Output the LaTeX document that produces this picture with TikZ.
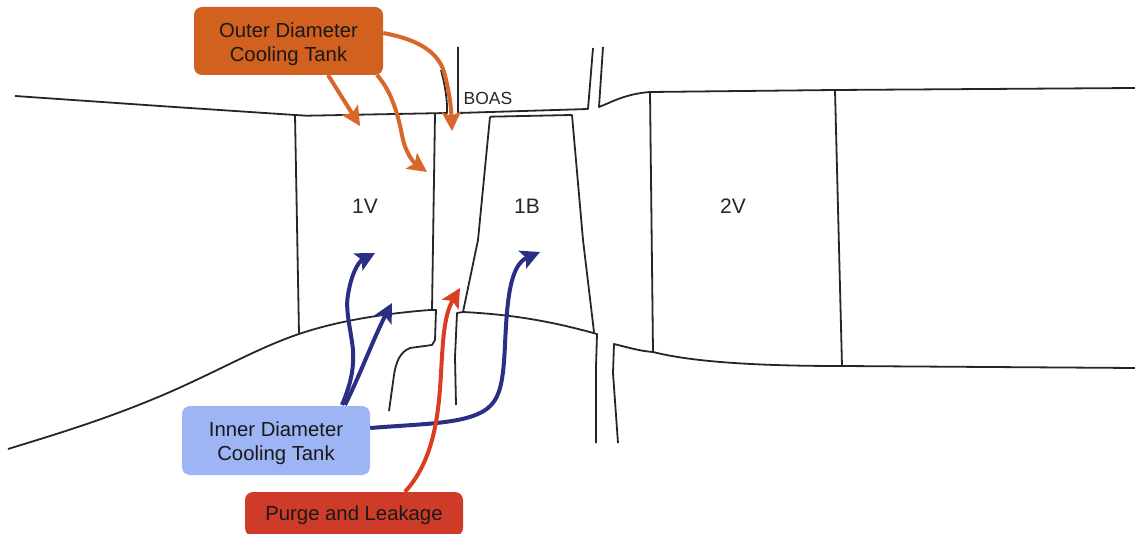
\documentclass[tikz,border=0pt]{standalone}
\usepackage{fontspec}
\setmainfont{Liberation Sans}
\usetikzlibrary{arrows.meta}
\definecolor{orangeBox}{HTML}{D2601F}
\definecolor{blueBox}{HTML}{9DB4F5}
\definecolor{redBox}{HTML}{CE3B28}
\definecolor{navyArrow}{HTML}{2B2F84}
\definecolor{orangeArrow}{HTML}{D9662A}
\definecolor{redArrow}{HTML}{DA3D22}
\newcommand{\headroom}[1]{\rule{0pt}{#1pt}}
\tikzset{
  wall/.style={draw=black!85, line width=1.8pt, line join=round},
  tank/.style={rounded corners=8pt, align=center, inner sep=0pt, font=\fontsize{20.3}{24}\selectfont, text=black!90},
  flow/.style={line width=4pt, -{Stealth[length=19pt,width=19pt,inset=4pt]}},
  stage/.style={font=\fontsize{21}{24}\selectfont, text=black!85},
}
\begin{document}
\begin{tikzpicture}[x=1pt,y=-1pt]
\useasboundingbox (0,0) rectangle (1135,534);
% shroud
\draw[wall] (15,96) -- (170,106.7) -- (295,115) -- (307,115.7) -- (447,113) .. controls (447.5,100) and (445,85) .. (441,70);
\draw[wall] (458,47) -- (458,113) -- (588,109) -- (593,48);
\draw[wall] (603,47) -- (599,107) .. controls (612,102) and (625,94) .. (650,92) -- (835,90) -- (1135,88);
% vane 1V
\draw[wall] (295,115) -- (299,334);
\draw[wall] (435,114) -- (432,310);
% blade 1B
\draw[wall] (490,116.7) -- (572,115) -- (583,240) -- (594,332);
\draw[wall] (490,116.7) -- (478,240) -- (463,312);
% hub left
\draw[wall] (8,449) .. controls (60,433) and (110,418) .. (170,392) .. controls (220,370) and (260,347) .. (299,334) .. controls (340,320) and (390,313) .. (430,310) -- (436,310) -- (435,340) -- (432,345) -- (410,348) .. controls (400,352) and (396,362) .. (394,375) -- (389,411);
% hub mid
\draw[wall] (456,405) -- (455,357) -- (457,313) -- (463,312) .. controls (500,314) and (540,318) .. (597,334) -- (596,367) -- (596,443);
% hub right
\draw[wall] (618,443) -- (613,373) -- (614,344) .. controls (630,348) and (640,351) .. (653,352) .. controls (700,364) and (780,366) .. (842,366) -- (1135,368);
% 2V
\draw[wall] (650,92) -- (653,352);
\draw[wall] (835,90) -- (842,366);
% text
\node[stage] (v1) at (365,206) {1V};
\node[stage] (b1) at (527,206) {1B};
\node[stage] (v2) at (733,206) {2V};
\node[font=\fontsize{17.5}{20}\selectfont, text=black!85] (boas) at (488,98) {BOAS};
% tanks
\node[tank, fill=orangeBox, minimum width=189pt, minimum height=68pt] (od) at (288.5,41) {\headroom{21.5}Outer Diameter\\Cooling Tank};
\node[tank, fill=blueBox, minimum width=188pt, minimum height=69pt] (id) at (276,440.5) {\headroom{20.5}Inner Diameter\\Cooling Tank};
\node[tank, fill=redBox, minimum width=218pt, minimum height=44pt] (pl) at (354,514) {\headroom{16.5}Purge and Leakage};
% flow end points
\coordinate (oa) at (452,131);
\coordinate (ob) at (427,172);
\coordinate (oc) at (360,126);
\coordinate (ia) at (375,253);
\coordinate (ib) at (392,303);
\coordinate (ic) at (540,252);
\coordinate (pa) at (460,288);
% orange
\draw[flow, orangeArrow] (od.east |- 0,33) .. controls (410,38) and (437,48) .. (444,72) .. controls (449,90) and (451,105) .. (oa);
\draw[flow, orangeArrow] (377,75) .. controls (392,92) and (398,115) .. (402,135) .. controls (405,152) and (413,162) .. (ob);
\draw[flow, orangeArrow] (328,75) -- (oc);
% blue
\draw[flow, navyArrow] (342,405) .. controls (350,385) and (354,372) .. (353,350) .. controls (351,330) and (345,310) .. (348,295) .. controls (351,275) and (358,262) .. (ia);
\draw[flow, navyArrow] (345,405) .. controls (360,375) and (375,335) .. (ib);
\draw[flow, navyArrow] (id.east |- 0,428) .. controls (420,424) and (460,424) .. (482,412) .. controls (500,402) and (503,385) .. (505,345) .. controls (507,300) and (510,265) .. (ic);
% red
\draw[flow, redArrow] (pl.north -| 405,0) .. controls (425,470) and (435,440) .. (439,400) .. controls (443,360) and (441,320) .. (pa);
\end{tikzpicture}
\end{document}
